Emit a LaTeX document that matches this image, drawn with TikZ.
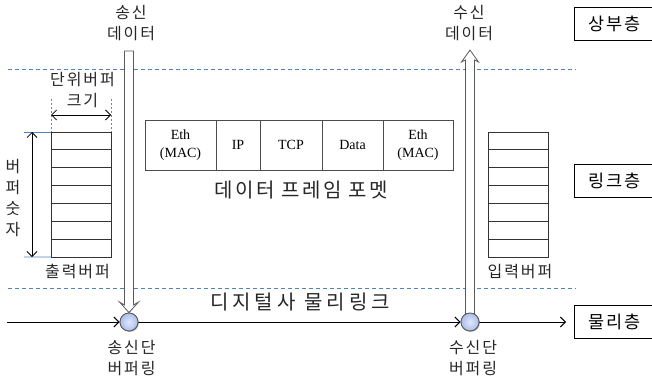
\documentclass[tikz,border=0pt]{standalone}
\usepackage{fontspec}
\setmainfont{Liberation Serif}
\newfontfamily\kr{Noto Sans CJK KR}
\newfontfamily\krw{Noto Sans CJK KR}[LetterSpace=12]
\newfontfamily\krx{Noto Sans CJK KR}[LetterSpace=20]
\usetikzlibrary{arrows.meta,calc,shadows}
\definecolor{dblue}{RGB}{79,129,189}
\definecolor{agray}{RGB}{90,90,90}
\definecolor{ringin}{RGB}{225,232,250}
\definecolor{ringout}{RGB}{170,190,235}
\begin{document}
\begin{tikzpicture}[x=1pt,y=-1pt,
  lbl/.style={font=\krw\fontsize{16}{21}\selectfont, align=center, inner sep=0pt, text=black!85},
  layerbox/.style={draw, line width=0.8pt, minimum width=80, minimum height=33, anchor=west, inner sep=0pt, font=\krw\fontsize{17.5}{20}\selectfont},
  sep/.style={draw=dblue, line width=0.9pt, dash pattern=on 4pt off 3pt},
  cell/.style={draw=black!80, line width=0.8pt, minimum width=60, minimum height=17.857, inner sep=0pt, outer sep=0pt},
  fcell/.style={draw=black!70, line width=0.8pt, minimum height=50, inner sep=0pt, outer sep=0pt, anchor=west, align=center, font=\fontsize{14}{18}\selectfont},
  ring/.style={circle, draw=agray, line width=0.8pt, minimum size=18, inner sep=0pt, inner color=ringin, outer color=ringout, drop shadow={opacity=0.25, shadow xshift=1pt, shadow yshift=-1pt}},
  flow/.style={line width=1pt, -{Straight Barb[length=5pt,width=10pt]}},
  dim/.style={line width=0.8pt, {Straight Barb[length=5pt,width=10pt]}-{Straight Barb[length=5pt,width=10pt]}},
  hollow/.style={draw=agray, line width=0.8pt, fill=white}
]
\useasboundingbox (0,0) rectangle (652,385);

% layer separators
\coordinate (s1a) at (8,69);  \coordinate (s1b) at (576,69);
\coordinate (s2a) at (8,288); \coordinate (s2b) at (576,288);
\draw[sep] (s1a) -- (s1b);
\draw[sep] (s2a) -- (s2b);

% layer boxes
\node[layerbox] (upper) at (574,24) {상부층};
\node[layerbox] (link) at (574,181) {링크층};
\node[layerbox] (phys) at (574,321.5) {물리층};

% data labels
\node[lbl] (sdata) at (131,23) {송신\\데이터};
\node[lbl] (rdata) at (469,23) {수신\\데이터};

% rings
\coordinate (lstart) at (7,322);
\coordinate (rend) at (566,322);
\node[ring] (sring) at (129,322) {};
\node[ring] (rring) at (470,322) {};
\draw[flow] (lstart) -- (sring.west);
\draw[flow] (sring.east) -- (rring.west);
\draw[flow] (rring.east) -- (rend);

% hollow send arrow (down)
\coordinate (stop) at (129,51);
\draw[hollow] ($(stop)+(-4.5,0)$) -- ($(stop)+(-4.5,254)$) -- ($(stop)+(-9.5,251)$) -- (sring.north) -- ($(stop)+(9.5,251)$) -- ($(stop)+(4.5,254)$) -- ($(stop)+(4.5,0)$) -- cycle;
% hollow receive arrow (up)
\coordinate (rtop) at (470,50);
\draw[hollow] (rtop) -- ($(rtop)+(8.5,12)$) -- ($(rtop)+(4.5,10)$) -- ($(rring.north)+(4.5,1)$) -- ($(rring.north)+(-4.5,1)$) -- ($(rtop)+(-4.5,10)$) -- ($(rtop)+(-8.5,12)$) -- cycle;
\node[ring] at (sring) {};
\node[ring] at (rring) {};

\node[lbl] (sbuf) at (131.5,358) {송신단\\버퍼링};
\node[lbl] (rbuf) at (473,358) {수신단\\버퍼링};

% link labels
\node[lbl, font=\krx\fontsize{20}{22}\selectfont] (plink) at (300,302) {디지털사 물리링크};

% frame format
\node[fcell, minimum width=71] (f1) at (145,145) {Eth\\(MAC)};
\node[fcell, minimum width=44] (f2) at (f1.east) {IP};
\node[fcell, minimum width=62] (f3) at (f2.east) {TCP};
\node[fcell, minimum width=61] (f4) at (f3.east) {Data};
\node[fcell, minimum width=70] (f5) at (f4.east) {Eth\\(MAC)};
\node[lbl, font=\krw\fontsize{20}{22}\selectfont] (fmt) at (301,190) {데이터 프레임 포멧};

% output / input buffers
\foreach \i in {1,...,7} {
  \node[cell] (ob\i) at (81,{132+17.857*(\i-0.5)}) {};
  \node[cell] (ib\i) at (518.5,{132+17.857*(\i-0.5)}) {};
}
\node[lbl] (obl) at (77.5,271.5) {출력버퍼};
\node[lbl] (ibl) at (520,271.5) {입력버퍼};

% buffer count dimension
\coordinate (e1) at (24,132); \coordinate (e2) at (24,257);
\draw[dblue, line width=0.8pt] (e1) -- (ob1.north west);
\draw[dblue, line width=0.8pt] (e2) -- (ob7.south west);
\coordinate (d1) at (32,132); \coordinate (d2) at (32,257);
\draw[dim] (d1) -- (d2);
\node[lbl] (cnt) at (13,198.5) {버\\퍼\\숫\\자};

% unit size dimension
\coordinate (u1) at (51,99); \coordinate (u2) at (111,99);
\draw[gray, line width=0.8pt, dash pattern=on 2pt off 2pt] (u1) -- (ob1.north west);
\draw[gray, line width=0.8pt, dash pattern=on 2pt off 2pt] (u2) -- (ob1.north east);
\coordinate (h1) at (51,115); \coordinate (h2) at (111,115);
\draw[dim] (h1) -- (h2);
\node[lbl] (unit) at (82.5,90) {단위버퍼\\크기};
\end{tikzpicture}
\end{document}
